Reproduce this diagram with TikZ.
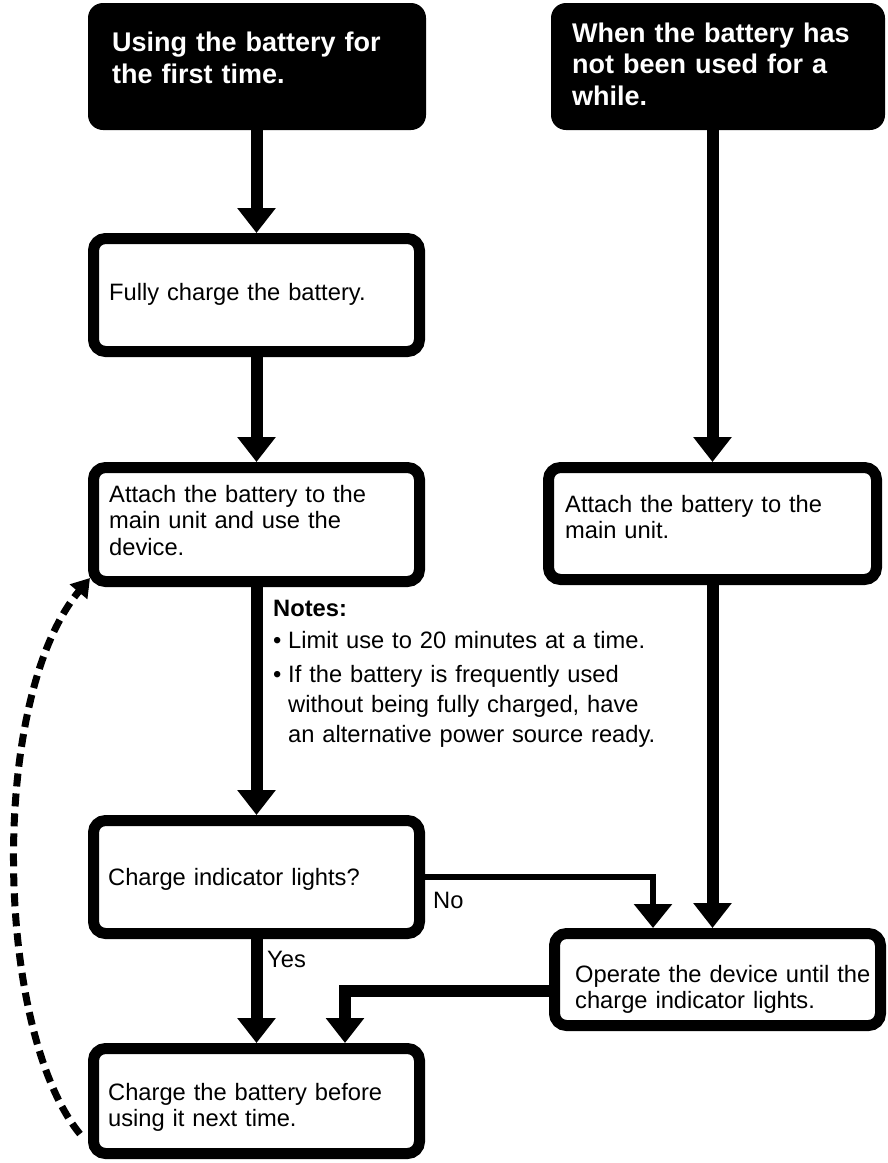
\documentclass[tikz,border=0pt]{standalone}
\usepackage{fontspec}
\setmainfont{Liberation Sans}
\usetikzlibrary{arrows.meta,calc}
\newcommand\notebullet{\makebox[15pt][l]{•}}
\begin{document}
\begin{tikzpicture}[x=1pt,y=-1pt,
  headbox/.style={fill=black, rounded corners=15pt, inner sep=0pt},
  stepbox/.style={draw=black, line width=11pt, rounded corners=12pt, fill=white, inner sep=0pt},
  txt/.style={font=\fontsize{23.7}{26.5}\selectfont, text width=420pt, align=left, inner sep=0pt, anchor=base west},
  htxt/.style={font=\bfseries\fontsize{27}{31.5}\selectfont, text=white, text width=320pt, align=left, inner sep=0pt, anchor=base west},
  flow/.style={line width=12pt, -{Triangle[width=37pt,length=25pt]}},
  thinflow/.style={line width=6pt, -{Triangle[width=37pt,length=24pt]}},
  back/.style={line width=7pt, dash pattern=on 13pt off 7pt, -{Triangle[width=22pt,length=18pt]}},
]
\useasboundingbox (0,0) rectangle (888,1163);

% heading boxes
\node[headbox, minimum width=338pt, minimum height=127pt] (B1) at (257,66.5) {};
\node[headbox, minimum width=334pt, minimum height=127pt] (B2) at (718,66.5) {};
\node[htxt] (B1t) at (112,51.5) {Using the battery for\\the first time.};
\node[htxt] (B2t) at (572,42) {When the battery has\\not been used for a\\while.};

% step boxes
\node[stepbox, minimum width=326pt, minimum height=113pt] (F) at (256.5,295) {};
\node[stepbox, minimum width=326pt, minimum height=114pt] (A1) at (256.5,524.5) {};
\node[stepbox, minimum width=326pt, minimum height=113pt] (CI) at (256.5,877) {};
\node[stepbox, minimum width=326pt, minimum height=105pt] (L) at (256.5,1101) {};
\node[stepbox, minimum width=328pt, minimum height=112pt] (RA) at (712.5,523.5) {};
\node[stepbox, minimum width=326pt, minimum height=92pt] (OP) at (717.5,979.5) {};

% texts
\node[txt] (Ft) at (109,300) {Fully charge the battery.};
\node[txt] (A1t) at (109,502) {Attach the battery to the\\main unit and use the\\device.};
\node[txt] (CIt) at (108,885) {Charge indicator lights?};
\node[txt] (Lt) at (108,1100) {Charge the battery before\\using it next time.};
\node[txt] (RAt) at (565,512) {Attach the battery to the\\main unit.};
\node[txt] (OPt) at (575,982) {Operate the device until the\\charge indicator lights.};
\node[txt, font=\fontsize{23.7}{30}\selectfont] (notes) at (273,616)
  {\textbf{Notes:}\\[2pt]
   \notebullet Limit use to 20 minutes at a time.\\[4pt]
   \notebullet If the battery is frequently used\\
   \hspace*{15pt}without being fully charged, have\\
   \hspace*{15pt}an alternative power source ready.};
\node[txt] (no) at (433,908) {No};
\node[txt] (yes) at (267,967) {Yes};

% connectors
\draw[flow] (B1.south -| F.north) -- (F.north);
\draw[flow] (F.south) -- (A1.north);
\draw[flow] (A1.south) -- (CI.north);
\draw[flow] (CI.south) -- (L.north);
\draw[flow] (RA.north |- B2.south) -- (RA.north);
\draw[flow] (RA.south) -- (RA.south |- OP.north);
\draw[thinflow] (CI.east) -| ($(OP.north west)+(104,0)$);
\draw[flow] ($(OP.west)+(0,11.5)$) -| ($(L.north)+(88.5,0)$);
\draw[back] ($(L.west)+(-8,33)$) .. controls (-5,1030) and (-12,700) .. ($(A1.south west)+(2,-9)$);
\end{tikzpicture}
\end{document}
